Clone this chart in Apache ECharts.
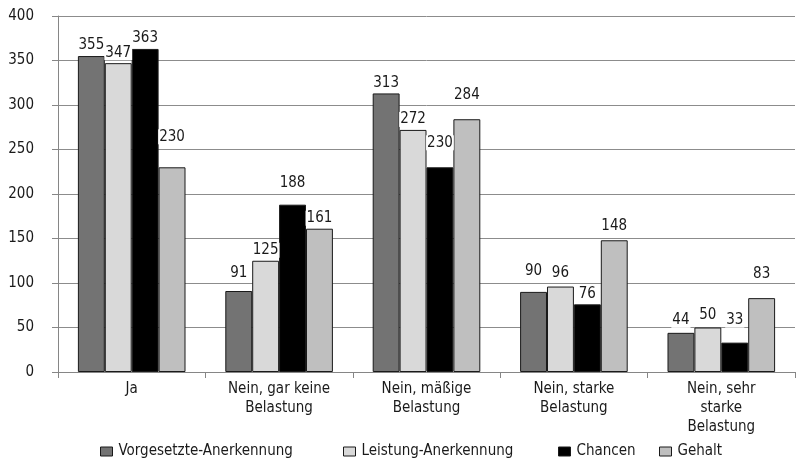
<!DOCTYPE html>
<html>
<head>
<meta charset="utf-8">
<script src="https://cdn.jsdelivr.net/npm/echarts@6/dist/echarts.min.js"></script>
<style>
html,body{margin:0;padding:0;background:#fff;}
#chart{width:796px;height:460px;}
</style>
</head>
<body>
<div id="chart"></div>
<script>
const categories = ['Ja', 'Nein, gar keine\nBelastung', 'Nein, mäßige\nBelastung', 'Nein, starke\nBelastung', 'Nein, sehr\nstarke\nBelastung'];
const seriesNames = ['Vorgesetzte-Anerkennung', 'Leistung-Anerkennung', 'Chancen', 'Gehalt'];
const vorgesetzte = [355, 91, 313, 90, 44];
const leistung = [347, 125, 272, 96, 50];
const chancen = [363, 188, 230, 76, 33];
const gehalt = [230, 161, 284, 148, 83];
const yTicks = [0, 50, 100, 150, 200, 250, 300, 350, 400];

// extra vertical lift (px) of each value label above its bar, per series
const labelLift = [
  [0, 7, 0, 10, 2],
  [0, 0, 0, 3, 2],
  [0, 11, 14, 0, 12],
  [20, 0, 14, 4, 14]
];

const FONT = "'DejaVu Sans Condensed', 'Roboto', sans-serif";
const colors = ['#737373', '#d9d9d9', '#000000', '#bfbfbf'];
const values = [vorgesetzte, leistung, chancen, gehalt];
const legendLeft = [100, 343, 558, 659];

const chart = echarts.init(document.getElementById('chart'), null, {renderer: 'canvas'});

const series = seriesNames.map((name, i) => ({
  name: name,
  type: 'bar',
  data: values[i].map((v, j) => ({
    value: v,
    label: {offset: [0, -labelLift[i][j]]}
  })),
  barGap: '0%',
  barCategoryGap: '27%',
  itemStyle: {color: colors[i], borderColor: '#1a1a1a', borderWidth: 1},
  label: {
    show: true,
    position: 'top',
    distance: 3,
    color: '#1a1a1a',
    fontFamily: FONT,
    fontSize: 15,
    backgroundColor: '#ffffff',
    padding: [0, 1, 0, 1]
  }
}));

chart.setOption({
  animation: false,
  textStyle: {fontFamily: FONT},
  grid: {left: 58, right: 1, top: 16, bottom: 88, containLabel: false},
  legend: seriesNames.map((name, i) => ({
    data: [name],
    left: legendLeft[i],
    top: 444,
    padding: 0,
    itemWidth: 12,
    itemHeight: 9,
    itemGap: 5,
    icon: 'rect',
    itemStyle: {borderColor: '#1a1a1a', borderWidth: 1},
    textStyle: {fontFamily: FONT, fontSize: 15, color: '#1a1a1a', padding: [0, 0, 0, 1]}
  })),
  xAxis: {
    type: 'category',
    data: categories,
    axisLine: {lineStyle: {color: '#868686', width: 1}},
    axisTick: {show: true, alignWithLabel: false, length: 6, lineStyle: {color: '#868686'}},
    axisLabel: {
      interval: 0,
      color: '#1a1a1a',
      fontFamily: FONT,
      fontSize: 15,
      lineHeight: 19,
      margin: 8
    }
  },
  yAxis: {
    type: 'value',
    min: 0,
    max: 400,
    interval: 50,
    axisLine: {show: true, lineStyle: {color: '#868686', width: 1}},
    axisTick: {show: true, length: 6, lineStyle: {color: '#868686'}},
    splitLine: {show: true, lineStyle: {color: '#8c8c8c', width: 1}},
    axisLabel: {
      color: '#1a1a1a',
      fontFamily: FONT,
      fontSize: 15,
      margin: 24,
      formatter: v => yTicks.includes(v) ? String(v) : ''
    }
  },
  series: series
});
</script>
</body>
</html>
